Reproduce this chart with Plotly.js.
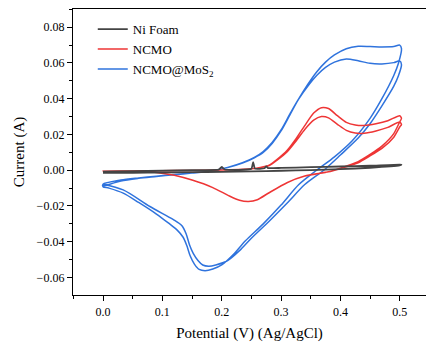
<!DOCTYPE html>
<html>
<head>
<meta charset="utf-8">
<script src="https://cdn.plot.ly/plotly-3.0.1.min.js"></script>
<style>html,body{margin:0;padding:0;background:#fff;}#chart{width:426px;height:342px;}</style>
</head>
<body>
<div id="chart"></div>
<script>
// Series names
const seriesNames = ["Ni Foam", "NCMO", "NCMO@MoS<sub>2</sub>"];

// Ni Foam (one loop)
const niFoamV = [0.000, 0.050, 0.100, 0.150, 0.195, 0.200, 0.205, 0.250, 0.253, 0.256, 0.272, 0.275, 0.278, 0.300, 0.350, 0.400, 0.450, 0.500, 0.503,
                 0.500, 0.450, 0.400, 0.350, 0.300, 0.250, 0.200, 0.150, 0.100, 0.050, 0.000];
const niFoamI = [-0.0008, -0.0005, -0.0002, 0.0001, 0.0003, 0.0018, 0.0004, 0.0008, 0.0045, 0.0009, 0.0011, 0.0022, 0.0012, 0.0013, 0.0017, 0.0021, 0.0025, 0.0031, 0.0030,
                 0.0027, 0.0014, 0.0006, 0.0001, -0.0003, -0.0006, -0.0009, -0.0011, -0.0013, -0.0014, -0.0015];

// NCMO cycle 1
const ncmoC1V = [0.000, 0.050, 0.100, 0.150, 0.200, 0.230, 0.250, 0.265, 0.280, 0.295, 0.310, 0.325, 0.340, 0.355, 0.368, 0.380, 0.395, 0.410, 0.425, 0.440, 0.460, 0.480, 0.500, 0.503,
                 0.500, 0.490, 0.470, 0.450, 0.430, 0.400, 0.380, 0.340, 0.310, 0.280, 0.260, 0.245, 0.230, 0.213, 0.185, 0.150, 0.120, 0.090, 0.050, 0.000];
const ncmoC1I = [-0.0005, -0.0004, -0.0003, -0.0001, 0.0001, 0.0004, 0.0008, 0.0015, 0.0028, 0.0065, 0.0110, 0.0175, 0.0250, 0.0320, 0.0350, 0.0345, 0.0305, 0.0268, 0.0253, 0.0250, 0.0260, 0.0277, 0.0305, 0.0290,
                 0.0270, 0.0205, 0.0135, 0.0088, 0.0048, 0.0012, -0.0008, -0.0032, -0.0069, -0.0125, -0.0165, -0.0175, -0.0168, -0.0144, -0.0097, -0.0055, -0.0028, -0.0012, -0.0006, -0.0005];
// NCMO cycle 2
const ncmoC2V = [0.000, 0.050, 0.100, 0.150, 0.200, 0.230, 0.250, 0.265, 0.280, 0.295, 0.310, 0.325, 0.340, 0.355, 0.368, 0.380, 0.395, 0.410, 0.425, 0.440, 0.460, 0.480, 0.500, 0.503,
                 0.500, 0.490, 0.470, 0.450, 0.430, 0.400, 0.380, 0.340, 0.310, 0.280, 0.260, 0.245, 0.230, 0.213, 0.185, 0.150, 0.120, 0.090, 0.050, 0.000];
const ncmoC2I = [-0.0005, -0.0004, -0.0003, -0.0001, 0.0001, 0.0004, 0.0008, 0.0014, 0.0026, 0.0060, 0.0102, 0.0162, 0.0228, 0.0280, 0.0300, 0.0293, 0.0257, 0.0223, 0.0208, 0.0207, 0.0220, 0.0240, 0.0270, 0.0255,
                 0.0242, 0.0185, 0.0122, 0.0080, 0.0042, 0.0010, -0.0009, -0.0033, -0.0070, -0.0126, -0.0166, -0.0175, -0.0168, -0.0144, -0.0097, -0.0055, -0.0028, -0.0012, -0.0006, -0.0005];

// NCMO@MoS2 cycle 1
const mosC1V = [0.000, 0.030, 0.060, 0.090, 0.120, 0.150, 0.180, 0.210, 0.235, 0.255, 0.270, 0.285, 0.300, 0.315, 0.330, 0.345, 0.360, 0.375, 0.390, 0.410, 0.430, 0.450, 0.470, 0.490, 0.500, 0.503,
                0.498, 0.490, 0.470, 0.450, 0.420, 0.390, 0.360, 0.330, 0.300, 0.270, 0.240, 0.220, 0.200, 0.185, 0.172, 0.162, 0.154, 0.147, 0.141, 0.135, 0.125, 0.110, 0.090, 0.060, 0.034, 0.010, 0.000];
const mosC1I = [-0.0090, -0.0060, -0.0045, -0.0035, -0.0025, -0.0016, -0.0006, 0.0015, 0.0040, 0.0070, 0.0100, 0.0150, 0.0220, 0.0310, 0.0400, 0.0480, 0.0550, 0.0605, 0.0645, 0.0680, 0.0693, 0.0692, 0.0690, 0.0692, 0.0700, 0.0680,
                0.0600, 0.0530, 0.0400, 0.0290, 0.0165, 0.0075, 0.0000, -0.0080, -0.0195, -0.0300, -0.0395, -0.0470, -0.0530, -0.0553, -0.0562, -0.0555, -0.0525, -0.0480, -0.0420, -0.0375, -0.0335, -0.0295, -0.0245, -0.0180, -0.0128, -0.0100, -0.0092];
// NCMO@MoS2 cycle 2
const mosC2V = [0.000, 0.030, 0.060, 0.090, 0.120, 0.150, 0.180, 0.210, 0.235, 0.255, 0.270, 0.285, 0.300, 0.315, 0.330, 0.345, 0.360, 0.375, 0.390, 0.410, 0.430, 0.450, 0.470, 0.490, 0.500, 0.503,
                0.498, 0.490, 0.470, 0.450, 0.430, 0.400, 0.372, 0.340, 0.310, 0.280, 0.250, 0.230, 0.210, 0.190, 0.178, 0.168, 0.160, 0.152, 0.146, 0.140, 0.133, 0.118, 0.079, 0.034, 0.000];
const mosC2I = [-0.0078, -0.0055, -0.0043, -0.0033, -0.0024, -0.0015, -0.0005, 0.0016, 0.0042, 0.0072, 0.0105, 0.0155, 0.0225, 0.0315, 0.0400, 0.0470, 0.0530, 0.0575, 0.0605, 0.0622, 0.0612, 0.0598, 0.0595, 0.0602, 0.0612, 0.0590,
                0.0530, 0.0470, 0.0360, 0.0260, 0.0180, 0.0085, 0.0000, -0.0080, -0.0185, -0.0285, -0.0380, -0.0450, -0.0505, -0.0530, -0.0537, -0.0530, -0.0505, -0.0465, -0.0420, -0.0355, -0.0310, -0.0275, -0.0203, -0.0110, -0.0078];

const colors = ["#444444", "#ee3535", "#2f73dd"];
const fontFam = "Liberation Serif, Times New Roman, serif";

const traces = [
  {x: mosC1V.concat(mosC2V), y: mosC1I.concat(mosC2I), name: seriesNames[2], mode: "lines",
   line: {color: colors[2], width: 1.5, shape: "spline", smoothing: 0.8}},
  {x: ncmoC1V.concat(ncmoC2V), y: ncmoC1I.concat(ncmoC2I), name: seriesNames[1], mode: "lines",
   line: {color: colors[1], width: 1.5, shape: "spline", smoothing: 0.6}},
  {x: niFoamV, y: niFoamI, name: seriesNames[0], mode: "lines",
   line: {color: colors[0], width: 1.8, shape: "spline", smoothing: 0.4}}
];

const layout = {
  width: 426, height: 342,
  margin: {l: 73, r: 0, t: 9, b: 47},
  paper_bgcolor: "#fff", plot_bgcolor: "#fff",
  font: {family: fontFam, color: "#000", size: 12},
  showlegend: true,
  legend: {x: 0.056, y: 0.982, xanchor: "left", yanchor: "top", traceorder: "reversed",
           bgcolor: "rgba(0,0,0,0)", font: {family: fontFam, size: 13, color: "#000"}, tracegroupgap: 0},
  xaxis: {
    range: [-0.0506, 0.5443], dtick: 0.1, tick0: 0, tickformat: ".1f",
    showgrid: false, zeroline: false, showline: true, linecolor: "#000", linewidth: 1.2, mirror: true,
    ticks: "outside", ticklen: 5, tickcolor: "#000", tickwidth: 1,
    minor: {dtick: 0.05, ticks: "outside", ticklen: 3, tickcolor: "#000", showgrid: false},
    tickfont: {family: fontFam, size: 12, color: "#000"},
    title: {text: "Potential (V) (Ag/AgCl)", font: {family: fontFam, size: 15, color: "#000"}, standoff: 15}
  },
  yaxis: {
    range: [-0.0698, 0.0902], dtick: 0.02, tick0: 0, tickformat: ".2f",
    showgrid: false, zeroline: false, showline: true, linecolor: "#000", linewidth: 1.2, mirror: false,
    ticks: "outside", ticklen: 5, tickcolor: "#000", tickwidth: 1,
    minor: {dtick: 0.01, ticks: "outside", ticklen: 3, tickcolor: "#000", showgrid: false},
    tickfont: {family: fontFam, size: 12, color: "#000"},
    title: {text: "Current (A)", font: {family: fontFam, size: 15, color: "#000"}, standoff: 8}
  }
};

Plotly.newPlot("chart", traces, layout, {displayModeBar: false, staticPlot: true});
</script>
</body>
</html>
